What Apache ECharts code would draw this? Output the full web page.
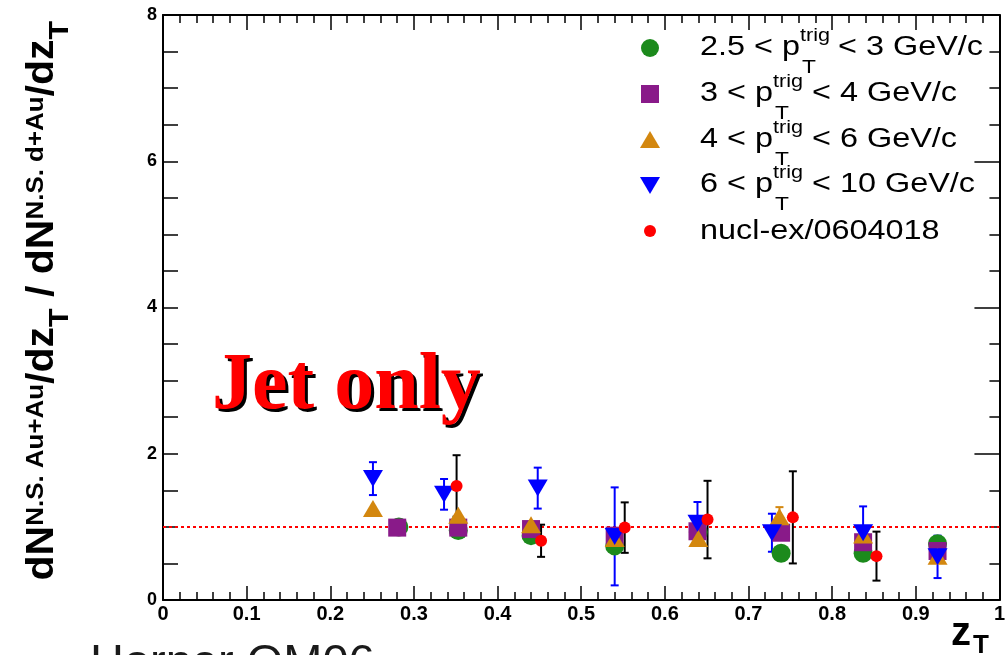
<!DOCTYPE html>
<html>
<head>
<meta charset="utf-8">
<script src="https://cdn.jsdelivr.net/npm/echarts@6/dist/echarts.min.js"></script>
<style>
  html, body { margin: 0; padding: 0; background: #ffffff; }
  #chart { width: 1008px; height: 655px; }
</style>
</head>
<body>
<div id="chart"></div>
<script>
// Near-side yield ratio Au+Au / d+Au versus z_T, per trigger pT bin: [zT, ratio] or [zT, ratio, error]
const bin25to3  = [[0.282,1.00],[0.353,0.95],[0.440,0.88],[0.540,0.74],[0.640,0.93],[0.739,0.64],[0.837,0.64],[0.926,0.77]];
const bin3to4   = [[0.280,0.99],[0.353,0.99],[0.440,0.97],[0.540,0.88],[0.639,0.94],[0.739,0.92],[0.837,0.79],[0.926,0.67]];
const bin4to6   = [[0.251,1.25],[0.353,1.16],[0.440,1.03],[0.540,0.84],[0.640,0.84],[0.737,1.14],[0.837,0.89],[0.926,0.60]];
const bin4to6Err = [[0.737,1.14,0.13],[0.837,0.89,0.10]];
const bin6to10  = [[0.251,1.66,0.225],[0.336,1.445,0.21],[0.448,1.53,0.28],[0.540,0.87,0.67],[0.639,1.05,0.29],[0.728,0.92,0.26],[0.837,0.92,0.36],[0.926,0.59,0.29]];
const nuclEx    = [[0.351,1.56,0.42],[0.452,0.81,0.22],[0.552,0.99,0.345],[0.651,1.10,0.53],[0.753,1.13,0.63],[0.853,0.60,0.335]];
const unityLine = [[0,1],[1,1]];

// Axis ranges and ticks
const xRange = [0, 1], xStep = 0.1;
const yRange = [0, 8], yStep = 2;

// Legend entries: label prefix, suffix after p_T^trig
const legendRows = [
  ['2.5 < p', '< 3 GeV/c'],
  ['3 < p', '< 4 GeV/c'],
  ['4 < p', '< 6 GeV/c'],
  ['6 < p', '< 10 GeV/c'],
  ['nucl-ex/0604018', null]
];

const C_GREEN = '#1c8a1c', C_PURPLE = '#891a89', C_ORANGE = '#d3870f', C_BLUE = '#0000ff', C_RED = '#ff0000';
const SANS = '"Liberation Sans", Arial, Helvetica, sans-serif';
const SERIF = '"Liberation Serif", "Times New Roman", serif';

function errorBars(color, cap) {
  return function (params, api) {
    const x = api.value(0), y = api.value(1), e = api.value(2);
    const t = api.coord([x, y + e]), b = api.coord([x, y - e]);
    const st = { stroke: color, lineWidth: 2 };
    return {
      type: 'group',
      children: [
        { type: 'line', shape: { x1: t[0], y1: t[1], x2: b[0], y2: b[1] }, style: st },
        { type: 'line', shape: { x1: t[0] - cap, y1: t[1], x2: t[0] + cap, y2: t[1] }, style: st },
        { type: 'line', shape: { x1: b[0] - cap, y1: b[1], x2: b[0] + cap, y2: b[1] }, style: st }
      ]
    };
  };
}

const axisLineStyle = { color: '#000', width: 2 };
const tickStyle = { color: '#000', width: 1.5 };

function xAxisDef(pos, major, minor, labels) {
  return {
    type: 'value', position: pos, min: xRange[0], max: xRange[1], interval: xStep,
    axisLine: { show: true, onZero: false, lineStyle: axisLineStyle },
    axisTick: { show: true, inside: true, length: major, lineStyle: tickStyle },
    minorTick: { show: true, splitNumber: 5, length: minor, lineStyle: tickStyle },
    splitLine: { show: false },
    axisLabel: {
      show: labels, margin: 4, color: '#000', fontSize: 20, fontWeight: 'bold', fontFamily: SANS,
      showMinLabel: true, showMaxLabel: true,
      formatter: v => (v === 0 ? '0' : v === 1 ? '1' : v.toFixed(1))
    }
  };
}
function yAxisDef(pos, major, minor, labels) {
  return {
    type: 'value', position: pos, min: yRange[0], max: yRange[1], interval: yStep,
    axisLine: { show: true, onZero: false, lineStyle: axisLineStyle },
    axisTick: { show: true, inside: true, length: major, lineStyle: tickStyle },
    minorTick: { show: true, splitNumber: 4, length: minor, lineStyle: tickStyle },
    splitLine: { show: false },
    axisLabel: { show: labels, margin: 6, color: '#000', fontSize: 18, fontWeight: 'bold', fontFamily: SANS }
  };
}

// Legend drawn as graphic text so the stacked sub/superscripts sit like the original
const legendX = 650, legendTextX = 700;
const rowY = [48, 94, 140, 185, 232];
const supX = [800, 773, 773, 773];
const restX = [838, 812, 812, 812];
const legendGraphics = [];
legendGraphics.push({ type: 'circle', shape: { cx: legendX, cy: rowY[0], r: 9 }, style: { fill: C_GREEN } });
legendGraphics.push({ type: 'rect', shape: { x: legendX - 9, y: rowY[1] - 9, width: 18, height: 18 }, style: { fill: C_PURPLE } });
legendGraphics.push({ type: 'polygon', shape: { points: [[legendX, rowY[2] - 9], [legendX + 10, rowY[2] + 8], [legendX - 10, rowY[2] + 8]] }, style: { fill: C_ORANGE } });
legendGraphics.push({ type: 'polygon', shape: { points: [[legendX - 10, rowY[3] - 8], [legendX + 10, rowY[3] - 8], [legendX, rowY[3] + 9]] }, style: { fill: C_BLUE } });
legendGraphics.push({ type: 'circle', shape: { cx: legendX, cy: rowY[4] - 1, r: 6 }, style: { fill: C_RED } });

function txt(x, y, s, size, extra) {
  return Object.assign({
    type: 'text', x: x, y: y, scaleX: 1.2,
    style: { text: s, fill: '#000', font: size + 'px ' + SANS, align: 'left', verticalAlign: 'middle' }
  }, extra || {});
}
legendRows.forEach((row, i) => {
  legendGraphics.push(txt(legendTextX, rowY[i], row[0], 27));
  if (row[1] !== null) {
    legendGraphics.push(txt(supX[i], rowY[i] - 12, 'trig', 18));
    legendGraphics.push(txt(supX[i] + 2, rowY[i] + 20, 'T', 19));
    legendGraphics.push(txt(restX[i], rowY[i], row[1], 27));
  }
});

// Y-axis title with superscripts and subscripts, reading bottom to top
const yTitleRich = {
  h: { fontSize: 2, lineHeight: 50, verticalAlign: 'top' },
  b: { fontSize: 38, fontWeight: 'bold', fontFamily: SANS, lineHeight: 44, verticalAlign: 'top', fill: '#000' },
  p: { fontSize: 24, fontWeight: 'bold', fontFamily: SANS, lineHeight: 4, verticalAlign: 'top', fill: '#000' },
  s: { fontSize: 28, fontWeight: 'bold', fontFamily: SANS, lineHeight: 8, verticalAlign: 'bottom', fill: '#000' }
};
const yTitle = '{h| }{b|dN}{p|N.S. Au+Au}{b|/dz}{s|T}{b| / dN}{p|N.S. d+Au}{b|/dz}{s|T}';

const chart = echarts.init(document.getElementById('chart'), null, { renderer: 'canvas' });
chart.setOption({
  animation: false,
  backgroundColor: '#ffffff',
  grid: { left: 163, right: 8, top: 15, bottom: 55, containLabel: false },
  xAxis: [xAxisDef('bottom', 14, 8, true), xAxisDef('top', 15, 8, false)],
  yAxis: [yAxisDef('left', 15, 15, true), yAxisDef('right', 25, 10, false)],
  series: [
    { type: 'line', data: unityLine, symbol: 'none', silent: true,
      lineStyle: { color: C_RED, width: 2, type: [3, 3] }, z: 1 },
    { type: 'scatter', name: '2.5-3', data: bin25to3, symbol: 'circle', symbolSize: 19,
      itemStyle: { color: C_GREEN, opacity: 1 } },
    { type: 'scatter', name: '3-4', data: bin3to4, symbol: 'rect', symbolSize: 18,
      itemStyle: { color: C_PURPLE, opacity: 1 } },
    { type: 'custom', data: bin4to6Err, renderItem: errorBars(C_ORANGE, 4) },
    { type: 'scatter', name: '4-6', data: bin4to6, symbol: 'triangle', symbolSize: [20, 17],
      itemStyle: { color: C_ORANGE, opacity: 1 } },
    { type: 'custom', data: bin6to10, renderItem: errorBars(C_BLUE, 4) },
    { type: 'scatter', name: '6-10', data: bin6to10, encode: { x: 0, y: 1 }, symbol: 'triangle',
      symbolRotate: 180, symbolSize: [20, 17], itemStyle: { color: C_BLUE, opacity: 1 } },
    { type: 'custom', data: nuclEx, renderItem: errorBars('#000', 4) },
    { type: 'scatter', name: 'nucl-ex/0604018', data: nuclEx, encode: { x: 0, y: 1 }, symbol: 'circle',
      symbolSize: 12, itemStyle: { color: C_RED, opacity: 1 } }
  ],
  graphic: [
    ...legendGraphics,
    // y-axis title
    { type: 'text', x: 49, y: 301, rotation: Math.PI / 2, scaleX: 1.08,
      style: { text: yTitle, rich: yTitleRich, align: 'center', verticalAlign: 'middle' } },
    // x-axis title z_T
    { type: 'text', x: 951, y: 634,
      style: { text: 'z', fill: '#000', font: 'bold 40px ' + SANS, align: 'left', verticalAlign: 'middle' } },
    { type: 'text', x: 973, y: 646,
      style: { text: 'T', fill: '#000', font: 'bold 26px ' + SANS, align: 'left', verticalAlign: 'middle' } },
    // "Jet only" with black drop shadow
    { type: 'text', x: 215, y: 390,
      style: { text: 'Jet only', fill: '#000', font: 'bold 80px ' + SERIF, align: 'left', verticalAlign: 'middle' } },
    { type: 'text', x: 212, y: 387,
      style: { text: 'Jet only', fill: C_RED, font: 'bold 80px ' + SERIF, align: 'left', verticalAlign: 'middle' } },
    // author note at the bottom
    { type: 'text', x: 90, y: 664,
      style: { text: 'Horner QM06', fill: '#1a1a1a', font: '47px ' + SANS, align: 'left', verticalAlign: 'middle' } }
  ]
});
</script>
</body>
</html>
